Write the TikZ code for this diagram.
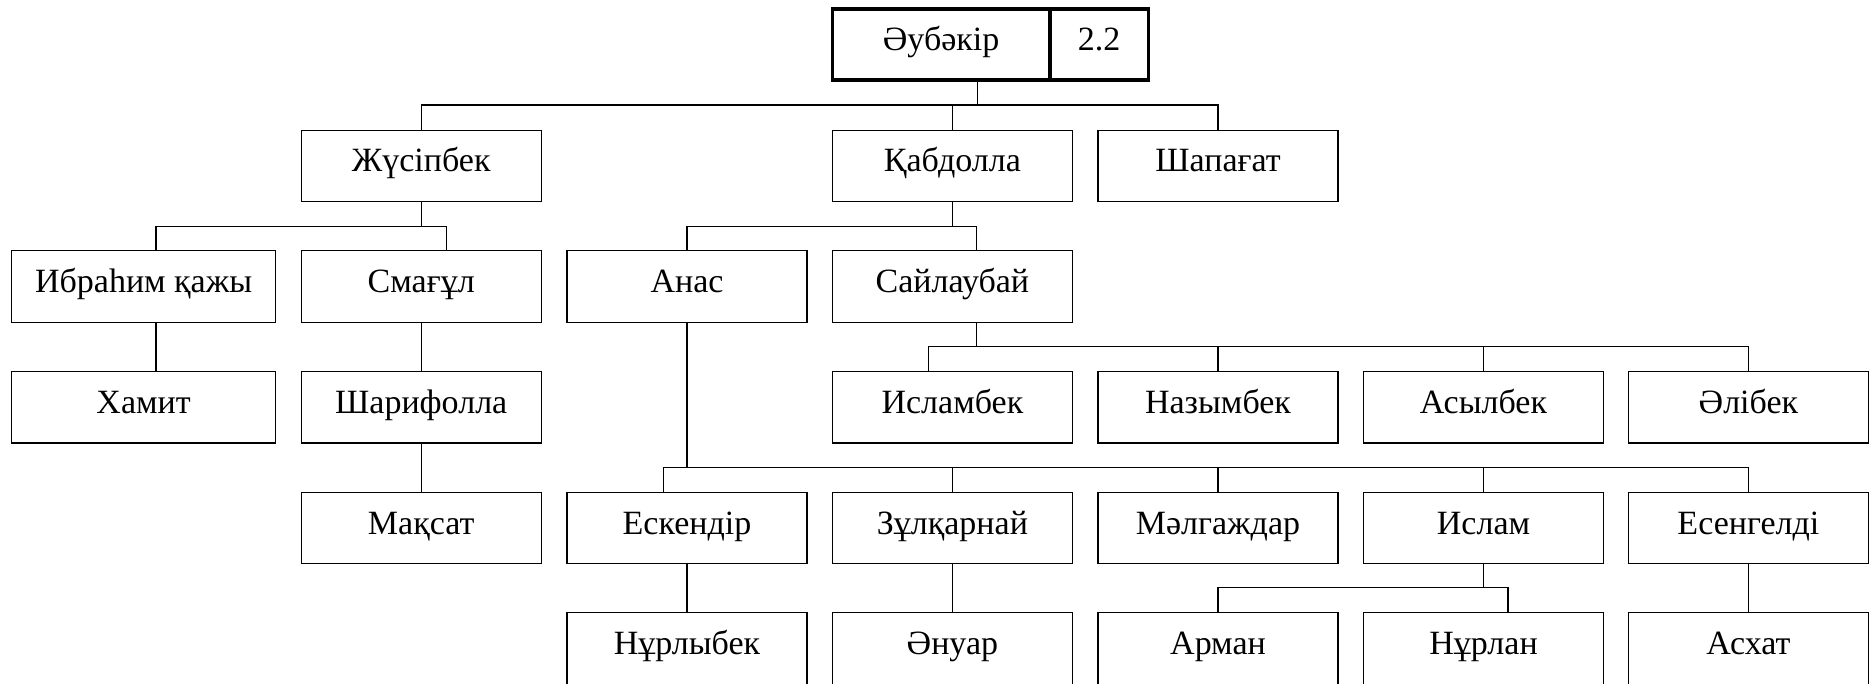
\documentclass[tikz,border=0pt]{standalone}
\usepackage{fontspec}
\setmainfont{Liberation Serif}
\begin{document}
\begin{tikzpicture}[x=1pt,y=-1pt,
  pbox/.style={draw,line width=1.3pt,rectangle,inner sep=0pt,minimum width=240pt,minimum height=71.5pt,
    font=\fontsize{34}{40}\selectfont,text height=20pt,text depth=8pt},
  wbox/.style={pbox,minimum width=263.6pt},
  tbox/.style={pbox,line width=3.2pt,minimum height=71pt},
  conn/.style={line width=1.3pt}]
\useasboundingbox (0,0) rectangle (1869,683);
\clip (0,0) rectangle (1869,683);
% top
\node[tbox,minimum width=217.7pt] (aub) at (941.15,44.5) {Әубәкір};
\node[tbox,minimum width=98.3pt] (num) at (1099.15,44.5) {2.2};
% row 1
\node[pbox] (jus) at (421.2,165.9) {Жүсіпбек};
\node[pbox] (kab) at (952.4,165.9) {Қабдолла};
\node[pbox] (sha) at (1218,165.9) {Шапағат};
% row 2
\node[wbox] (ibr) at (143.6,286.5) {Ибраһим қажы};
\node[pbox] (sma) at (421.2,286.5) {Смағұл};
\node[pbox] (ana) at (687,286.5) {Анас};
\node[pbox] (say) at (952.4,286.5) {Сайлаубай};
% row 3
\node[wbox] (ham) at (143.6,407.3) {Хамит};
\node[pbox] (sar) at (421.2,407.3) {Шарифолла};
\node[pbox] (isb) at (952.4,407.3) {Исламбек};
\node[pbox] (naz) at (1218,407.3) {Назымбек};
\node[pbox] (asy) at (1483.5,407.3) {Асылбек};
\node[pbox] (alb) at (1748.4,407.3) {Әлібек};
% row 4
\node[pbox] (mak) at (421.2,528) {Мақсат};
\node[pbox] (esk) at (687,528) {Ескендір};
\node[pbox] (zul) at (952.4,528) {Зұлқарнай};
\node[pbox] (mal) at (1218,528) {Мәлгаждар};
\node[pbox] (isl) at (1483.5,528) {Ислам};
\node[pbox] (ese) at (1748.4,528) {Есенгелді};
% row 5
\node[pbox] (nrb) at (687,648.5) {Нұрлыбек};
\node[pbox] (anu) at (952.4,648.5) {Әнуар};
\node[pbox] (arm) at (1218,648.5) {Арман};
\node[pbox] (nur) at (1483.5,648.5) {Нұрлан};
\node[pbox] (asx) at (1748.4,648.5) {Асхат};
% bus coordinates
\coordinate (t0) at (977.3,105);
\coordinate (j1) at (156,226.7);
\coordinate (j2) at (446.4,226.7);
\coordinate (k2) at (976.6,226.7);
\coordinate (s0) at (976.6,346.7);
\coordinate (s1) at (928.4,346.7);
\coordinate (a1) at (663.7,467.7);
\coordinate (i2) at (1508,587.7);
% connectors
\draw[conn] (aub.south -| t0) -- (t0);
\draw[conn] (jus.north) -- (jus.north |- t0) -- (sha.north |- t0) -- (sha.north);
\draw[conn] (kab.north) -- (kab.north |- t0);
\draw[conn] (jus.south) -- (jus.south |- j1);
\draw[conn] (j1 |- ibr.north) -- (j1) -- (j2) -- (j2 |- sma.north);
\draw[conn] (j1 |- ibr.south) -- (j1 |- ham.north);
\draw[conn] (sar.north |- sma.south) -- (sar.north);
\draw[conn] (sar.south) -- (mak.north);
\draw[conn] (kab.south) -- (kab.south |- k2);
\draw[conn] (ana.north) -- (ana.north |- k2) -- (k2) -- (k2 |- say.north);
\draw[conn] (k2 |- say.south) -- (s0);
\draw[conn] (s1 |- isb.north) -- (s1) -- (alb.north |- s1) -- (alb.north);
\draw[conn] (naz.north) -- (naz.north |- s1);
\draw[conn] (asy.north) -- (asy.north |- s1);
\draw[conn] (ana.south) -- (ana.south |- a1);
\draw[conn] (a1 |- esk.north) -- (a1) -- (ese.north |- a1) -- (ese.north);
\draw[conn] (zul.north) -- (zul.north |- a1);
\draw[conn] (mal.north) -- (mal.north |- a1);
\draw[conn] (isl.north) -- (isl.north |- a1);
\draw[conn] (esk.south) -- (nrb.north);
\draw[conn] (zul.south) -- (anu.north);
\draw[conn] (ese.south) -- (asx.north);
\draw[conn] (isl.south) -- (isl.south |- i2);
\draw[conn] (arm.north) -- (arm.north |- i2) -- (i2) -- (i2 |- nur.north);
\end{tikzpicture}
\end{document}
